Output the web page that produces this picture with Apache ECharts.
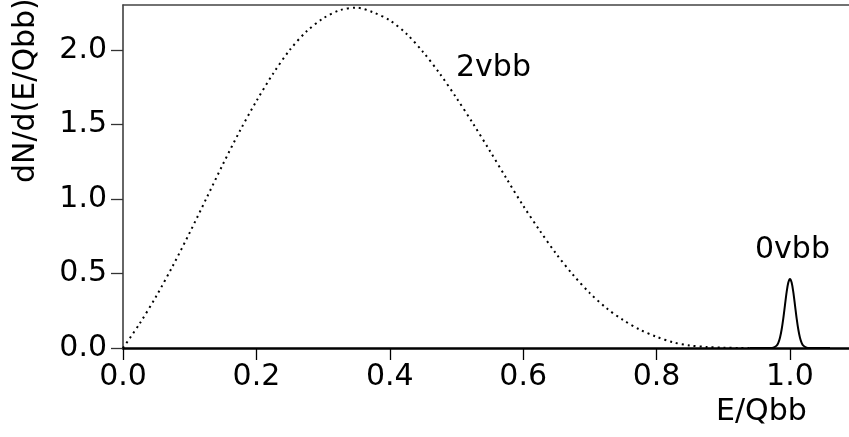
<!DOCTYPE html>
<html>
<head>
<meta charset="utf-8">
<script src="https://cdn.jsdelivr.net/npm/echarts@6/dist/echarts.min.js"></script>
<style>
html,body{margin:0;padding:0;background:#fff;}
#chart{width:849px;height:437px;}
</style>
</head>
<body>
<div id="chart"></div>
<script>
// 2vbb continuous spectrum
var x2v = [0, 0.025, 0.05, 0.075, 0.1, 0.125, 0.15, 0.175, 0.2, 0.225, 0.25, 0.275, 0.3, 0.325, 0.35, 0.375, 0.4, 0.425, 0.45, 0.475, 0.5, 0.525, 0.55, 0.575, 0.6, 0.625, 0.65, 0.675, 0.7, 0.725, 0.75, 0.775, 0.8, 0.825, 0.85, 0.875, 0.9, 0.925, 0.95];
var y2v = [0, 0.164, 0.349, 0.554, 0.774, 1.004, 1.235, 1.455, 1.657, 1.841, 2.000, 2.124, 2.212, 2.267, 2.284, 2.253, 2.199, 2.109, 1.986, 1.841, 1.678, 1.505, 1.323, 1.137, 0.955, 0.787, 0.629, 0.490, 0.368, 0.267, 0.187, 0.123, 0.075, 0.038, 0.017, 0.007, 0.002, 0.0003, 0];
// 0vbb peak
var x0v = [0.94, 0.96, 0.97, 0.975, 0.98, 0.9825, 0.985, 0.9875, 0.99, 0.9925, 0.995, 0.9975, 1.0, 1.0025, 1.005, 1.0075, 1.01, 1.0125, 1.015, 1.0175, 1.02, 1.025, 1.03, 1.04, 1.06];
var y0v = [0, 0, 0.0002, 0.0024, 0.016, 0.035, 0.069, 0.124, 0.199, 0.288, 0.375, 0.439, 0.463, 0.439, 0.375, 0.288, 0.199, 0.124, 0.069, 0.035, 0.016, 0.0024, 0.0002, 0, 0];
var xTicks = [0, 0.2, 0.4, 0.6, 0.8, 1.0];
var yTicks = [0, 0.5, 1.0, 1.5, 2.0];
var xTitle = 'E/Qbb';
var yTitle = 'dN/d(E/Qbb)';
var label2v = '2vbb';
var label0v = '0vbb';

function pairs(xs, ys){ return xs.map(function(x,i){ return [x, ys[i]]; }); }

var FONT = 'DejaVu Sans';
var FS = 30;
var chart = echarts.init(document.getElementById('chart'), null, {renderer:'canvas'});
chart.setOption({
  animation: false,
  backgroundColor: '#fff',
  grid: {left: 123, right: 0, top: 5, bottom: 89, containLabel: false},
  xAxis: [{
    type: 'value', min: 0, max: 1.0885, position: 'bottom',
    axisLine: {show: true, onZero: false, lineStyle: {color: '#000', width: 2.5}},
    axisTick: {show: true, inside: false, length: 12, customValues: xTicks, lineStyle: {color: '#000', width: 1.3}},
    axisLabel: {customValues: xTicks, margin: 14, color: '#000', fontFamily: FONT, fontSize: FS,
      formatter: function(v){ return v.toFixed(1); }},
    splitLine: {show: false}
  }, {
    type: 'value', min: 0, max: 1.0885, position: 'top',
    axisLine: {show: true, onZero: false, lineStyle: {color: '#444', width: 1.5}},
    axisTick: {show: false}, axisLabel: {show: false}, splitLine: {show: false}
  }],
  yAxis: {
    type: 'value', min: 0, max: 2.302,
    axisLine: {show: true, onZero: false, lineStyle: {color: '#333', width: 1.5}},
    axisTick: {show: true, inside: false, length: 12, customValues: yTicks, lineStyle: {color: '#333', width: 1.3}},
    axisLabel: {customValues: yTicks, margin: 16, color: '#000', fontFamily: FONT, fontSize: FS,
      formatter: function(v){ return v.toFixed(1); }},
    splitLine: {show: false}
  },
  series: [{
    name: label2v, type: 'line', xAxisIndex: 0, data: pairs(x2v, y2v), smooth: 0.3, showSymbol: false,
    lineStyle: {color: '#000', width: 2, type: [2, 4], cap: 'butt'}
  }, {
    name: label0v, type: 'line', xAxisIndex: 0, data: pairs(x0v, y0v), smooth: 0.3, showSymbol: false,
    lineStyle: {color: '#000', width: 2}
  }],
  graphic: [
    {type: 'text', left: 456, top: 53, style: {text: label2v, fill: '#000', font: FS + 'px "' + FONT + '"'}},
    {type: 'text', left: 755, top: 235, style: {text: label0v, fill: '#000', font: FS + 'px "' + FONT + '"'}},
    {type: 'text', left: 716, top: 397, style: {text: xTitle, fill: '#000', font: FS + 'px "' + FONT + '"'}},
    {type: 'text', x: 11, y: 183, rotation: Math.PI / 2,
      style: {text: yTitle, fill: '#000', font: FS + 'px "' + FONT + '"', textAlign: 'left', textVerticalAlign: 'top'}}
  ]
});
</script>
</body>
</html>
